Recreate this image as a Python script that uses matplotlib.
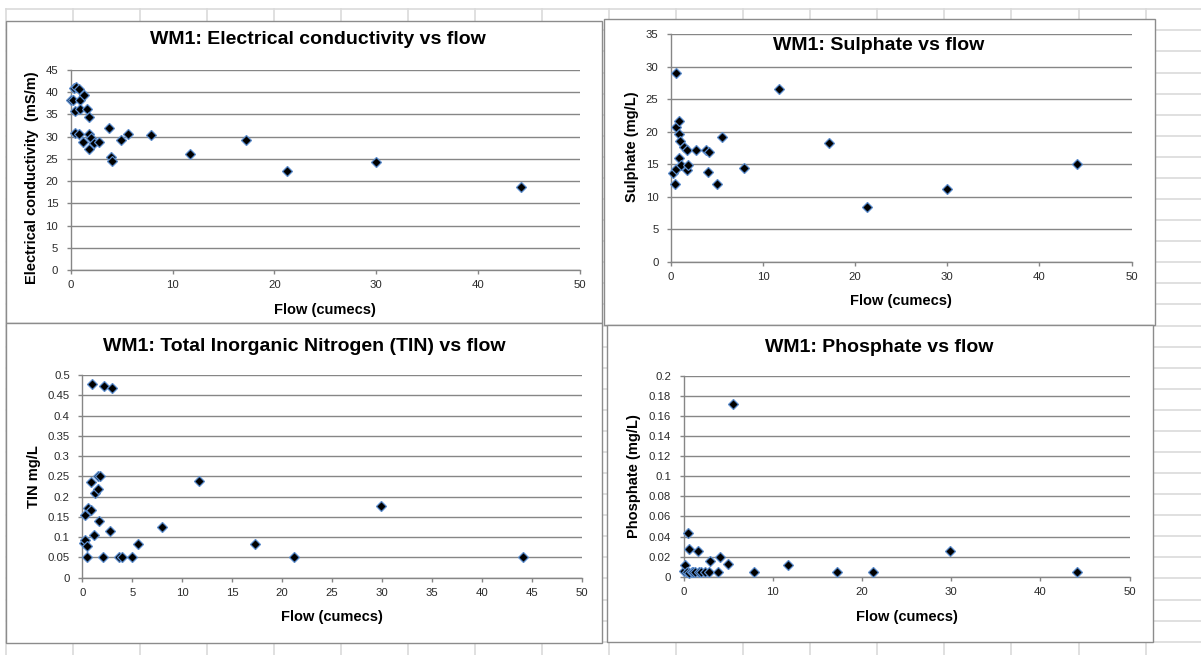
import matplotlib
matplotlib.use('Agg')
import matplotlib.pyplot as plt
from matplotlib import ticker
from matplotlib.patches import Rectangle
from matplotlib.lines import Line2D

plt.rcParams['font.family'] = ['Liberation Sans', 'DejaVu Sans']

# WM1 electrical conductivity (mS/m) vs flow (cumecs)
ec_flow = [0.05, 0.25, 0.3, 0.4, 0.4, 0.55, 0.85, 0.9, 0.95, 0.85, 1.15, 1.25, 1.55,
           1.8, 1.8, 2.0, 1.8, 2.3, 2.75, 3.75, 3.9, 4.05, 4.95, 5.6, 7.9, 11.7,
           17.25, 21.2, 29.95, 44.2]
ec = [38.2, 38.2, 41.0, 35.7, 30.8, 41.2, 40.8, 38.3, 36.2, 30.6, 28.9, 39.3, 36.3,
      34.5, 30.5, 29.6, 27.2, 28.6, 28.8, 32.0, 25.4, 24.5, 29.3, 30.6, 30.3, 26.0,
      29.3, 22.2, 24.3, 18.6]

# WM1 sulphate (mg/L) vs flow
so4_flow = [0.2, 0.45, 0.5, 0.55, 0.6, 0.9, 0.9, 1.0, 0.9, 1.05, 1.4, 1.7, 1.7, 1.9,
            2.75, 3.8, 4.15, 4.0, 5.05, 5.6, 7.9, 11.7, 17.2, 21.3, 30.0, 44.1]
so4 = [13.6, 12.0, 14.3, 20.7, 29.0, 21.7, 19.7, 18.6, 15.9, 14.9, 17.7, 17.1, 14.1, 14.9,
       17.2, 17.2, 16.9, 13.8, 12.0, 19.1, 14.4, 26.5, 18.2, 8.4, 11.1, 15.0]

# WM1 total inorganic nitrogen (mg/L) vs flow
tin_flow = [0.2, 0.3, 0.45, 0.5, 0.3, 0.6, 0.85, 0.85, 0.95, 1.2, 1.3, 1.6, 1.55, 1.8,
            1.7, 2.05, 2.2, 2.75, 3.0, 3.65, 3.95, 5.0, 5.6, 7.95, 11.7, 17.3, 21.2,
            29.95, 44.15]
tin = [0.085, 0.092, 0.079, 0.05, 0.155, 0.173, 0.168, 0.235, 0.477, 0.106, 0.208,
       0.218, 0.25, 0.252, 0.14, 0.05, 0.474, 0.114, 0.468, 0.05, 0.05, 0.05, 0.083,
       0.124, 0.238, 0.082, 0.05, 0.176, 0.05]

# WM1 phosphate (mg/L) vs flow
po4_flow = [0.05, 0.2, 0.35, 0.5, 0.6, 0.6, 0.9, 1.1, 1.3, 1.6, 1.7, 2.0, 2.4, 2.8, 3.0,
            3.85, 4.05, 5.0, 5.55, 7.9, 11.7, 17.2, 21.2, 29.9, 44.1]
po4 = [0.006, 0.012, 0.005, 0.044, 0.028, 0.004, 0.005, 0.005, 0.005, 0.026, 0.005,
       0.005, 0.005, 0.005, 0.016, 0.005, 0.02, 0.013, 0.172, 0.005, 0.012, 0.005,
       0.005, 0.026, 0.005]

W, H = 1201, 655
fig = plt.figure(figsize=(W / 100, H / 100), dpi=100)

# spreadsheet cell grid behind the charts
for k in range(18):
    x = (5.7 + 67.05 * k) / W
    fig.add_artist(Line2D([x, x], [0, 1 - 9.3 / H], color='#dadada', lw=1.2, zorder=0.1))
for k in range(31):
    y = 1 - (9.3 + 21.08 * k) / H
    fig.add_artist(Line2D([5.7 / W, 1], [y, y], color='#dadada', lw=1.2, zorder=0.1))


def panel(box, area, xs, ys, ymax, ystep, xstep, title, title_xy, ylabel, ylabel_xy, xlabel_xy):
    bx0, by0, bx1, by1 = box
    fig.add_artist(Rectangle((bx0 / W, 1 - by1 / H), (bx1 - bx0) / W, (by1 - by0) / H,
                             transform=fig.transFigure, facecolor='white',
                             edgecolor='#8c8c8c', lw=1.0, zorder=0.5))
    x0, y0, x1, y1 = area
    ax = fig.add_axes([x0 / W, 1 - y1 / H, (x1 - x0) / W, (y1 - y0) / H], zorder=2)
    ax.patch.set_facecolor('none')
    ax.plot(xs, ys, 'D', ms=5, mfc='black', mec='#5a8ccc', mew=0.9, clip_on=False, zorder=3)
    ax.set_xlim(0, 50)
    ax.set_ylim(0, ymax)
    ax.xaxis.set_major_locator(ticker.MultipleLocator(xstep))
    ax.yaxis.set_major_locator(ticker.MultipleLocator(ystep))
    fmt = ticker.FuncFormatter(lambda v, p: f'{round(v, 4):g}')
    ax.yaxis.set_major_formatter(fmt)
    ax.xaxis.set_major_formatter(fmt)
    ax.grid(axis='y', color='#868686', lw=1.0)
    ax.set_axisbelow(True)
    for s in ['top', 'right']:
        ax.spines[s].set_visible(False)
    for s in ['left', 'bottom']:
        ax.spines[s].set_color('#868686')
        ax.spines[s].set_linewidth(1.0)
    ax.tick_params(axis='both', direction='out', length=3, width=1.0, color='#868686',
                   labelsize=8.2, labelcolor='#2a2a2a')
    ax.tick_params(axis='x', pad=4.5)
    ax.tick_params(axis='y', pad=6)
    fig.text(title_xy[0] / W, 1 - title_xy[1] / H, title, ha='center', va='center',
             fontsize=14, fontweight='bold', zorder=4)
    fig.text(ylabel_xy[0] / W, 1 - ylabel_xy[1] / H, ylabel, ha='center', va='center',
             rotation=90, fontsize=10.5, fontweight='bold', zorder=4)
    fig.text(xlabel_xy[0] / W, 1 - xlabel_xy[1] / H, 'Flow (cumecs)', ha='center',
             va='center', fontsize=10.5, fontweight='bold', zorder=4)
    return ax


panel((5.7, 21, 602, 323), (70.8, 70, 579.8, 270), ec_flow, ec, 45, 5, 10,
      'WM1: Electrical conductivity vs flow', (317.6, 39),
      'Electrical conductivity  (mS/m)', (32.5, 178), (324.5, 310))
panel((5.7, 323, 602, 643), (82.3, 375, 581.7, 577.7), tin_flow, tin, 0.5, 0.05, 5,
      'WM1: Total Inorganic Nitrogen (TIN) vs flow', (304, 346.7),
      'TIN mg/L', (33.7, 477), (332, 616.7))
panel((604, 19, 1155, 325), (670.9, 34, 1131.6, 261.7), so4_flow, so4, 35, 5, 10,
      'WM1: Sulphate vs flow', (879, 46),
      'Sulphate (mg/L)', (632, 147), (901, 301))
panel((607, 325, 1153, 642), (683.6, 376, 1129.7, 576.7), po4_flow, po4, 0.2, 0.02, 10,
      'WM1: Phosphate vs flow', (879, 348),
      'Phosphate (mg/L)', (633.7, 475.8), (906.6, 616.7))

fig.savefig('out.png', dpi=100)
